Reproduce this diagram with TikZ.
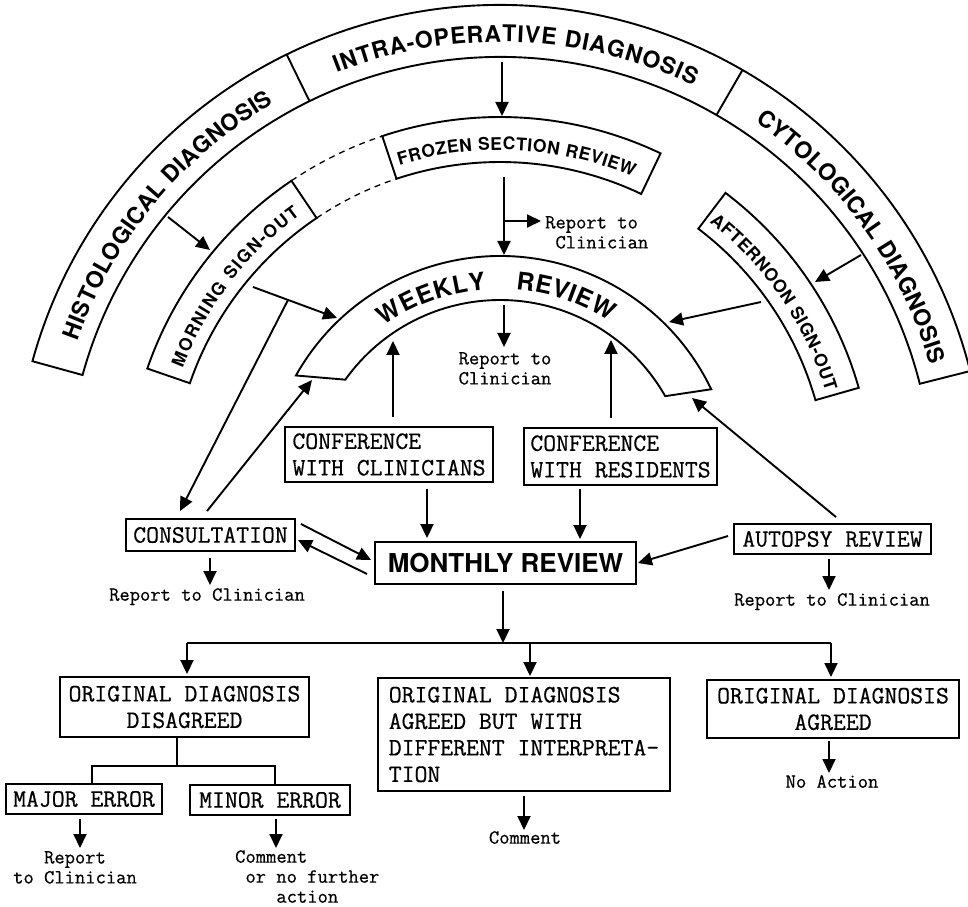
\documentclass[tikz,border=0pt]{standalone}
\usepackage{fontspec}
\setsansfont{TeX Gyre Heros}
\setmonofont{Latin Modern Mono}[FakeBold=0.6]
\usetikzlibrary{arrows.meta, calc, decorations.text}
\newcommand\arcfont{\sffamily\bfseries\fontsize{23}{23}\selectfont}
\newcommand\subfont{\sffamily\bfseries\fontsize{17.5}{17.5}\selectfont}
\newcommand\wkfont{\sffamily\bfseries\fontsize{24.5}{24.5}\selectfont}
\newcommand\boxfont{\ttfamily\fontsize{25}{26.5}\selectfont}
\newcommand\lblfont{\ttfamily\fontsize{20}{20}\selectfont}
\tikzset{ x=1pt, y=1pt, >={Triangle[length=14pt, width=13pt]},
  band/.style={draw, line width=1.9pt},
  arr/.style={draw, line width=1.9pt, ->},
  link/.style={draw, line width=1.9pt},
  tbox/.style 2 args={draw, line width=1.9pt, font=\boxfont, inner sep=0pt, minimum width=#1, minimum height=#2},
  lbl/.style={font=\lblfont, inner sep=0pt},
  arctxt/.style 2 args={decorate, decoration={text along path, text align={fit to path}, text={|#1|#2}}} }
% one piece of a ring: start angle, end angle, inner radius, outer radius
\newcommand\ringpart[4]{\draw[band] (#1:#3) -- (#1:#4) arc[start angle=#1, end angle=#2, radius=#4] -- (#2:#3) arc[start angle=#2, end angle=#1, radius=#3] -- cycle;}

\begin{document}
\begin{tikzpicture}
\fill[white] (0,0) rectangle (968,906);
\useasboundingbox (0,0) rectangle (968,906);
% rings
\begin{scope}[shift={(500,416)}]
\ringpart{164.6}{14.2}{433}{485}
\draw[band] (116.1:433) -- (116.1:485) (60:433) -- (60:485);
\path[arctxt={\arcfont}{HISTOLOGICAL DIAGNOSIS}] (160.6:448) arc[start angle=160.6, end angle=120.3, radius=448];
\path[arctxt={\arcfont}{INTRA-OPERATIVE DIAGNOSIS}] (111.4:448) arc[start angle=111.4, end angle=64.4, radius=448];
\path[arctxt={\arcfont}{CYTOLOGICAL DIAGNOSIS}] (55.3:448) arc[start angle=55.3, end angle=16.2, radius=448];
\ringpart{161}{124}{328}{373}
\draw[band, line width=1.3pt, dash pattern=on 6pt off 5pt] (124:373) arc[start angle=124, end angle=108.4, radius=373] (124:328) arc[start angle=124, end angle=108.4, radius=328];
\ringpart{108.4}{64.5}{328}{373}
\ringpart{52.8}{15.9}{328}{373}
\path[arctxt={\subfont}{MORNING SIGN-OUT}] (159:340) arc[start angle=159, end angle=126, radius=340];
\path[arctxt={\subfont}{FROZEN SECTION REVIEW}] (107.2:340) arc[start angle=107.2, end angle=67, radius=340];
\path[arctxt={\subfont}{AFTERNOON SIGN-OUT}] (52:340) arc[start angle=52, end angle=16.8, radius=340];
\draw[band] (144.5:190) -- (150.7:234) arc[start angle=150.7, end angle=25.5, radius=234] -- (29.6:190) arc[start angle=29.6, end angle=144.5, radius=190] -- cycle;
\path[arctxt={\wkfont}{WEEKLY}] (125.2:201) arc[start angle=125.2, end angle=94, radius=201];
\path[arctxt={\wkfont}{REVIEW}] (85.5:201) arc[start angle=85.5, end angle=57, radius=201];
\end{scope}
% points on the rings
\coordinate (intraIn) at (502,844);
\coordinate (frozenOut) at (502,790);
\coordinate (frozenIn) at (504,729);
\coordinate (weeklyOut) at (504,651);
\coordinate (fork) at (504,685);
\coordinate (weeklyIn) at (504,601);
\coordinate (histoIn) at (168,689);
\coordinate (morningOut) at (210,656);
\coordinate (morningIn) at (253,619);
\coordinate (weeklyL) at (337,588);
\coordinate (consFork) at ($(morningIn)!0.417!(weeklyL)$);
\coordinate (weeklyEndL) at (312,526);
\coordinate (cytoIn) at (861,651);
\coordinate (afternoonOut) at (815,624);
\coordinate (afternoonIn) at (761,604);
\coordinate (weeklyR) at (669,584);
\coordinate (wkIn1) at (393,565);
\coordinate (wkIn2) at (611,566);
\coordinate (weeklyEndR) at (692,508);
% boxes
\node[tbox={169pt}{32pt}] (consult) at (210.5,371) {CONSULTATION};
\node[tbox={208pt}{55pt}, align=left] (confclin) at (389,451.5) {CONFERENCE\\WITH CLINICIANS};
\node[tbox={193pt}{57pt}, align=left] (confres) at (620.5,449.5) {CONFERENCE\\WITH RESIDENTS};
\node[tbox={197pt}{30pt}] (autopsy) at (832.5,367) {AUTOPSY REVIEW};
\node[tbox={261pt}{42pt}, font=\sffamily\bfseries\fontsize{26}{26}\selectfont] (monthly) at (505.5,343) {MONTHLY REVIEW};
\node[tbox={249pt}{60pt}, align=center] (disagreed) at (184.5,199) {ORIGINAL DIAGNOSIS\\DISAGREED};
\node[tbox={292pt}{113pt}, align=left] (diffint) at (524,171.5) {ORIGINAL DIAGNOSIS\\AGREED BUT WITH\\DIFFERENT INTERPRETA-\\TION};
\node[tbox={252pt}{58pt}, align=center] (agreed) at (833,197) {ORIGINAL DIAGNOSIS\\AGREED};
\node[tbox={156pt}{30pt}] (major) at (84,107) {MAJOR ERROR};
\node[tbox={160pt}{30pt}] (minor) at (270,106) {MINOR ERROR};
% labels
\node[lbl, anchor=north west, align=left] (rep1) at (545,690) {Report to\\\phantom{x}Clinician};
\node[lbl, anchor=north, align=left] (rep2) at (505,554) {Report to\\Clinician};
\node[lbl, anchor=north] (rep3) at (207,318) {Report to Clinician};
\node[lbl, anchor=north] (rep4) at (832,313) {Report to Clinician};
\node[lbl, anchor=north, align=center] (rep5) at (75,55) {Report\\to Clinician};
\node[lbl, anchor=north west, align=left] (rep6) at (235,56) {Comment\\\phantom{x}or no further\\\phantom{xxxx}action};
\node[lbl, anchor=north] (rep7) at (525,75) {Comment};
\node[lbl, anchor=north] (rep8) at (832,131) {No Action};
% connectors between the rings
\draw[arr] (intraIn) -- (frozenOut);
\draw[arr] (frozenIn) -- (weeklyOut);
\draw[arr] (fork) -- ($(rep1.north west)+(-4,-5)$);
\draw[arr] (weeklyIn) -- ($(rep2.north)+(-1,5)$);
\draw[arr] (histoIn) -- (morningOut);
\draw[arr] (morningIn) -- (weeklyL);
\draw[arr] (consFork) -- ($(consult.north)+(-30.5,7)$);
\draw[arr] ($(consult.north)+(-3.5,7)$) -- (weeklyEndL);
\draw[arr] (cytoIn) -- (afternoonOut);
\draw[arr] (afternoonIn) -- (weeklyR);
\draw[arr] ($(confclin.north)+(4,9)$) -- (wkIn1);
\draw[arr] ($(confres.north)+(-9.5,9)$) -- (wkIn2);
\draw[arr] ($(autopsy.north)+(3.5,6)$) -- (weeklyEndR);
% monthly review
\draw[arr] ($(autopsy.west)+(-5,3)$) -- ($(monthly.east)+(1,0)$);
\draw[arr] ($(autopsy.south)+(-3.5,-4)$) -- ($(rep4.north)+(-3,3)$);
\draw[arr] ($(confclin.south)+(38,-6)$) -- ($(monthly.north)+(-78.5,3)$);
\draw[arr] ($(confres.south)+(-40.5,-3)$) -- ($(monthly.north)+(74.5,2)$);
\draw[arr] ($(consult.east)+(5,11)$) -- ($(monthly.west)+(-3,3)$);
\draw[arr] ($(monthly.west)+(-7,-11)$) -- ($(consult.east)+(2,-5)$);
\draw[arr] ($(consult.south)+(-0.5,-6)$) -- ($(rep3.north)+(3,3)$);
% outcomes
\coordinate (hubL) at (187,263);
\coordinate (hubM) at (503,263);
\coordinate (hubR) at (831,263);
\draw[arr] ($(monthly.south)+(-2.5,-6)$) -- (hubM);
\draw[link] (hubL) -- (hubR);
\draw[arr] (hubL) -- ($(disagreed.north)+(2.5,2)$);
\draw[arr] ($(diffint.north)+(6,35)$) -- ($(diffint.north)+(6,1)$);
\draw[arr] (hubR) -- ($(agreed.north)+(-2,2)$);
\coordinate (treeJ) at (177,140);
\coordinate (treeL) at (92,140);
\coordinate (treeR) at (275,140);
\draw[link] (treeJ |- disagreed.south) -- (treeJ);
\draw[link] (treeL |- major.north) -- (treeL) -- (treeR) -- (treeR |- minor.north);
\draw[arr] ($(major.south)+(-4,-4)$) -- ($(rep5.north)+(5,3)$);
\draw[arr] ($(minor.south)+(6,-3)$) -- ($(rep6.north west)+(41,2)$);
\draw[arr] ($(diffint.south)+(0,-4)$) -- ($(rep7.north)+(-1,1)$);
\draw[arr] ($(agreed.south)+(-4,-2)$) -- ($(rep8.north)+(-3,2)$);
\end{tikzpicture}
\end{document}
